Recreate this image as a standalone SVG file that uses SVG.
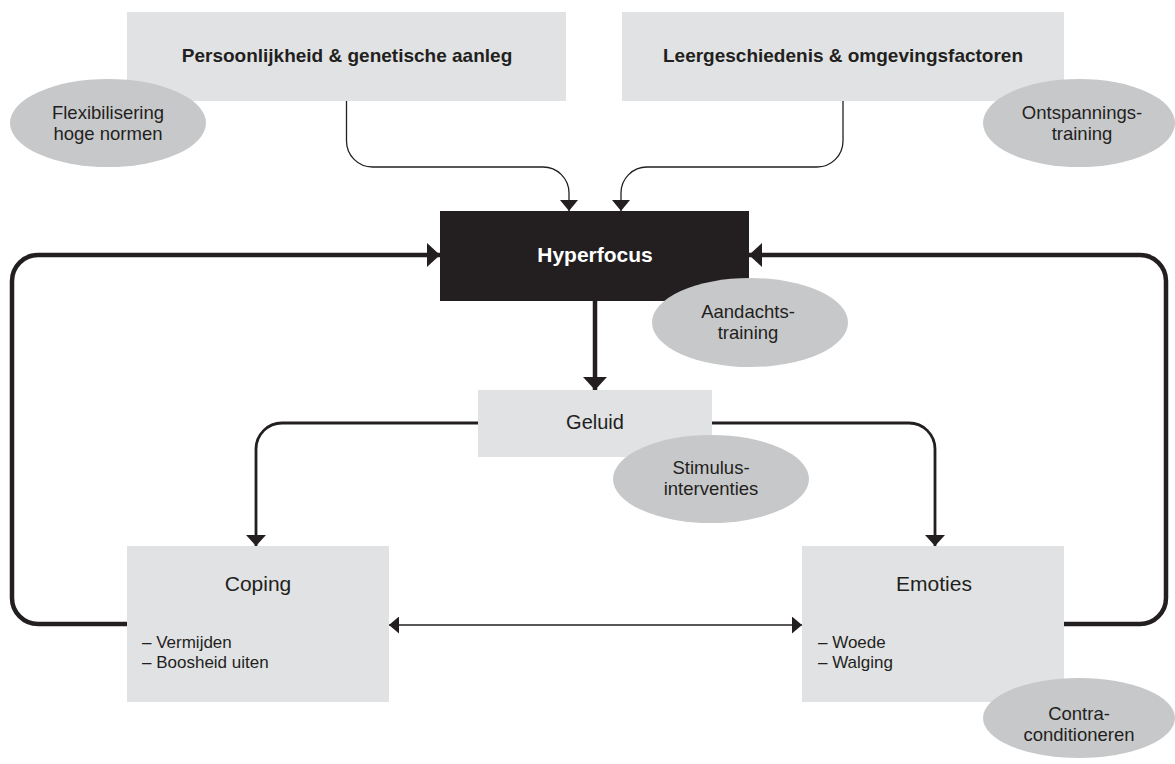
<svg xmlns="http://www.w3.org/2000/svg" width="1175" height="764" viewBox="0 0 1175 764">
<style>
.box{fill:#e1e2e4}
.dark{fill:#231f20}
.oval{fill:#c7c8ca}
text{font-family:"Liberation Sans",Arial,sans-serif;fill:#231f20}
.title{font-size:19px;font-weight:bold;text-anchor:middle}
.hf{font-size:21px;font-weight:bold;fill:#ffffff;text-anchor:middle}
.lbl{font-size:21px;text-anchor:middle}
.ov{font-size:18.5px;text-anchor:middle}
.li{font-size:17px}
.thin{fill:none;stroke:#231f20;stroke-width:1.3}
.mid{fill:none;stroke:#231f20;stroke-width:2.8}
.thick{fill:none;stroke:#231f20;stroke-width:4.5}
</style>
<defs>
<marker id="aThin" viewBox="0 0 11 18" markerWidth="11" markerHeight="18" refX="11" refY="9" orient="auto" markerUnits="userSpaceOnUse"><path d="M0,0L11,9L0,18Z" fill="#231f20"/></marker>
<marker id="aMid" viewBox="0 0 11 20" markerWidth="11" markerHeight="20" refX="11" refY="10" orient="auto" markerUnits="userSpaceOnUse"><path d="M0,0L11,10L0,20Z" fill="#231f20"/></marker>
<marker id="aBig" viewBox="0 0 13 24" markerWidth="13" markerHeight="24" refX="13" refY="12" orient="auto" markerUnits="userSpaceOnUse"><path d="M0,0L13,12L0,24Z" fill="#231f20"/></marker>
<marker id="aDbl" viewBox="0 0 10 17" markerWidth="10" markerHeight="17" refX="10" refY="8.5" orient="auto-start-reverse" markerUnits="userSpaceOnUse"><path d="M0,0L10,8.5L0,17Z" fill="#231f20"/></marker>
</defs>
<rect width="1175" height="764" fill="#ffffff"/>

<g id="persoonlijkheid">
<rect class="box" x="127" y="12" width="439" height="89"/>
<text class="title" x="347" y="62">Persoonlijkheid &amp; genetische aanleg</text>
</g>
<g id="leergeschiedenis">
<rect class="box" x="622" y="12" width="442" height="89"/>
<text class="title" x="843" y="62">Leergeschiedenis &amp; omgevingsfactoren</text>
</g>
<g id="hyperfocus">
<rect class="dark" x="440" y="211" width="309" height="90"/>
<text class="hf" x="595" y="262">Hyperfocus</text>
</g>
<g id="geluid">
<rect class="box" x="478" y="390" width="234" height="67"/>
<text class="lbl" x="595" y="429" style="font-size:20px">Geluid</text>
</g>
<g id="coping">
<rect class="box" x="127" y="546" width="262" height="156"/>
<text class="lbl" x="258" y="591">Coping</text>
<text class="li" x="142" y="648">– Vermijden</text>
<text class="li" x="142" y="668">– Boosheid uiten</text>
</g>
<g id="emoties">
<rect class="box" x="802" y="546" width="262" height="156"/>
<text class="lbl" x="934" y="591">Emoties</text>
<text class="li" x="818" y="648">– Woede</text>
<text class="li" x="818" y="668">– Walging</text>
</g>

<g id="connectors">
<path class="thin" d="M346.5,101V141A26,26 0 0 0 372.5,167H543A26,26 0 0 1 569,193V211" marker-end="url(#aThin)"/>
<path class="thin" d="M843,101V141A26,26 0 0 1 817,167H647A26,26 0 0 0 621,193V211" marker-end="url(#aThin)"/>
<path class="thick" d="M595,301V390" marker-end="url(#aBig)"/>
<path class="thick" d="M127,624H38A26,26 0 0 1 12,598V281A26,26 0 0 1 38,255H440" marker-end="url(#aBig)"/>
<path class="thick" d="M1064,624H1140A26,26 0 0 0 1166,598V281A26,26 0 0 0 1140,255H749" marker-end="url(#aBig)"/>
<path class="mid" d="M478,423H282A26,26 0 0 0 256,449V546" marker-end="url(#aMid)"/>
<path class="mid" d="M712,423H909A26,26 0 0 1 935,449V546" marker-end="url(#aMid)"/>
<path class="thin" d="M389,625H802" marker-start="url(#aDbl)" marker-end="url(#aDbl)"/>
</g>

<g id="flexibilisering">
<ellipse class="oval" cx="108" cy="123" rx="98" ry="44"/>
<text class="ov" x="108" y="119">Flexibilisering</text>
<text class="ov" x="108" y="140">hoge normen</text>
</g>
<g id="ontspanning">
<ellipse class="oval" cx="1079" cy="123" rx="96" ry="44"/>
<text class="ov" x="1082" y="119">Ontspannings-</text>
<text class="ov" x="1082" y="140">training</text>
</g>
<g id="aandacht">
<ellipse class="oval" cx="750" cy="322.5" rx="98" ry="44.5"/>
<text class="ov" x="748" y="318">Aandachts-</text>
<text class="ov" x="748" y="339">training</text>
</g>
<g id="stimulus">
<ellipse class="oval" cx="711" cy="479" rx="98" ry="44"/>
<text class="ov" x="711" y="474">Stimulus-</text>
<text class="ov" x="711" y="495">interventies</text>
</g>
<g id="contra">
<ellipse class="oval" cx="1079" cy="718" rx="96" ry="40"/>
<text class="ov" x="1079" y="720">Contra-</text>
<text class="ov" x="1079" y="741">conditioneren</text>
</g>
</svg>
